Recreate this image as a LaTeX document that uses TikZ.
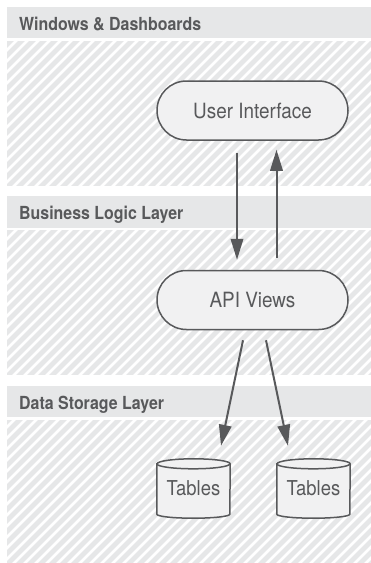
\documentclass[tikz,border=0pt]{standalone}
\usepackage{fontspec}
\setmainfont{TeX Gyre Heros}
\newfontfamily\hdrfont[FakeStretch=0.885]{TeX Gyre Heros}
\newfontfamily\ndfont[FakeStretch=0.9]{TeX Gyre Heros}
\usetikzlibrary{shapes.misc,arrows.meta}
\definecolor{bandfill}{HTML}{E6E7E8}
\definecolor{nodefill}{HTML}{F1F1F2}
\definecolor{linec}{HTML}{58595B}
\definecolor{txtc}{HTML}{58595B}
\pgfdeclarelayer{bands}
\pgfdeclarelayer{shapes}
\pgfsetlayers{bands,shapes,main}
\tikzset{
  hdr/.style={font=\hdrfont\bfseries\fontsize{18}{21}\selectfont, text=txtc, inner sep=0pt, anchor=base west},
  proc/.style={rounded rectangle, draw=linec, line width=1.5pt, fill=nodefill,
    minimum width=191pt, minimum height=59pt, inner sep=0pt,
    font=\ndfont\fontsize{21}{25}\selectfont, text=txtc},
  tblbox/.style={rectangle, draw=none, minimum width=73pt, minimum height=59pt, inner sep=0pt,
    font=\ndfont\fontsize{20.5}{24}\selectfont, text=txtc},
  cyl/.style={draw=linec, line width=1.5pt, fill=nodefill},
  arr/.style={draw=linec, line width=2pt, -{Triangle[length=21pt,width=12.5pt]}},
  hatchline/.style={draw=white, line width=2.6pt}
}
\begin{document}
\begin{tikzpicture}[x=1pt,y=-1pt]
\useasboundingbox (0,0) rectangle (371,563);
\begin{pgfonlayer}{bands}
\fill[white] (0,0) rectangle (371,563);
\foreach \ht/\hb in {7/38, 196/228, 386/417} {
  \fill[bandfill] (7,\ht) rectangle (371,\hb);
}
\foreach \top/\bot in {41/186, 230/375, 420/563} {
  \fill[bandfill] (7,\top) rectangle (371,\bot);
  \begin{scope}
    \clip (7,\top) rectangle (371,\bot);
    \foreach \k in {0,...,55} \draw[hatchline] ({\k*11-200},\bot+5) -- ++(205,-205);
  \end{scope}
}
\end{pgfonlayer}

\node[hdr] (h1) at (19,30) {Windows \& Dashboards};
\node[hdr] (h2) at (19,219.5) {Business Logic Layer};
\node[hdr] (h3) at (19,409) {Data Storage Layer};

\node[proc] (ui) at (252.5,110.5) {User Interface};
\node[proc] (api) at (252.5,300) {API Views};

\node[tblbox] (t1) at (193.5,488.5) {Tables};
\node[tblbox] (t2) at (313.5,488.5) {Tables};

\begin{pgfonlayer}{shapes}
\foreach \t in {t1,t2} {
  \filldraw[cyl] ([yshift=-5pt]\t.north west) -- ([yshift=4pt]\t.south west)
    arc[start angle=180, end angle=0, x radius=36.5, y radius=4]
    -- ([yshift=-5pt]\t.north east)
    arc[start angle=0, end angle=-180, x radius=36.5, y radius=5] -- cycle;
  \draw[cyl, fill=none] ([yshift=-5pt]\t.north west)
    arc[start angle=180, end angle=0, x radius=36.5, y radius=5];
}
\end{pgfonlayer}

\draw[arr] ([xshift=-15.5pt,yshift=-12pt]ui.south) -- ([xshift=-15.5pt,yshift=10pt]api.north);
\draw[arr] ([xshift=24pt,yshift=12pt]api.north) -- ([xshift=24pt,yshift=-9pt]ui.south);
\draw[arr] ([xshift=-9.5pt,yshift=-10pt]api.south) -- ([xshift=27.5pt,yshift=13pt]t1.north);
\draw[arr] ([xshift=13.5pt,yshift=-10pt]api.south) -- ([xshift=-25.5pt,yshift=13pt]t2.north);
\end{tikzpicture}
\end{document}
